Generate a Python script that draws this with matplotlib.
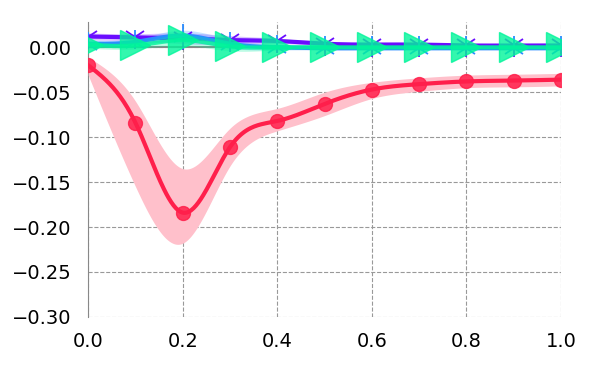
import numpy as np
import matplotlib
matplotlib.use("Agg")
import matplotlib.pyplot as plt

x = [0.0, 0.1, 0.2, 0.3, 0.4, 0.5, 0.6, 0.7, 0.8, 0.9, 1.0]

red_mean = [-0.020, -0.084, -0.184, -0.111, -0.082, -0.063, -0.047, -0.041, -0.038, -0.037, -0.036]
red_low = [-0.031, -0.155, -0.218, -0.132, -0.093, -0.076, -0.057, -0.049, -0.045, -0.044, -0.043]
red_high = [-0.011, -0.060, -0.135, -0.090, -0.068, -0.050, -0.039, -0.034, -0.031, -0.030, -0.029]

purple_mean = [0.012, 0.011, 0.010, 0.008, 0.007, 0.004, 0.003, 0.003, 0.002, 0.002, 0.002]
blue_mean = [0.004, 0.006, 0.013, 0.004, 0.000, -0.001, -0.001, -0.001, -0.001, -0.001, -0.001]
green_mean = [0.003, 0.002, 0.008, 0.001, 0.000, 0.000, 0.000, 0.000, 0.000, 0.000, 0.000]
band_small = [0.004, 0.004, 0.006, 0.005, 0.003, 0.002, 0.002, 0.002, 0.002, 0.002, 0.002]

xticks = [0.0, 0.2, 0.4, 0.6, 0.8, 1.0]
yticks = [0.00, -0.05, -0.10, -0.15, -0.20, -0.25, -0.30]


def spline(xs, ys, xn):
    xs = np.asarray(xs, float); ys = np.asarray(ys, float)
    n = len(xs); h = np.diff(xs)
    A = np.zeros((n, n)); b = np.zeros(n)
    A[0, 0] = A[-1, -1] = 1
    for i in range(1, n - 1):
        A[i, i - 1] = h[i - 1]; A[i, i] = 2 * (h[i - 1] + h[i]); A[i, i + 1] = h[i]
        b[i] = 3 * ((ys[i + 1] - ys[i]) / h[i] - (ys[i] - ys[i - 1]) / h[i - 1])
    c = np.linalg.solve(A, b)
    out = np.empty_like(xn)
    for k, xv in enumerate(xn):
        i = min(max(np.searchsorted(xs, xv) - 1, 0), n - 2)
        d = xv - xs[i]
        bb = (ys[i + 1] - ys[i]) / h[i] - h[i] * (2 * c[i] + c[i + 1]) / 3
        dd = (c[i + 1] - c[i]) / (3 * h[i])
        out[k] = ys[i] + bb * d + c[i] * d ** 2 + dd * d ** 3
    return out


xn = np.linspace(0, 1, 400)

fig = plt.figure(figsize=(6, 3.75), dpi=100)
ax = fig.add_axes([0.147, 0.155, 0.788, 0.786])

ax.grid(True, color="#999999", linestyle="--", linewidth=0.8)
ax.set_axisbelow(True)
ax.axhline(0, color="#888888", linewidth=1.5, zorder=1)

series = [
    (purple_mean, "#6a0dff", "1"),
    (blue_mean, "#2a8cff", "2"),
]
for m, col, mk in series:
    ax.fill_between(xn, spline(x, np.array(m) - band_small, xn), spline(x, np.array(m) + band_small, xn),
                    color=col, alpha=0.25, linewidth=0, zorder=2)
    ax.plot(xn, spline(x, m, xn), color=col, linewidth=3, zorder=3)
    ax.plot(x, m, linestyle="none", marker=mk, color=col, markersize=17, markeredgewidth=1.3, zorder=3)

ax.fill_between(xn, spline(x, np.array(green_mean) - band_small, xn), spline(x, np.array(green_mean) + band_small, xn),
                color="#00f59a", alpha=0.25, linewidth=0, zorder=4)
ax.plot(xn, spline(x, green_mean, xn), color="#00f59a", linewidth=3, alpha=0.8, zorder=4)
ax.plot(x, green_mean, linestyle="none", marker=">", color="#00f59a", markersize=21, alpha=0.8, zorder=4)

ax.fill_between(xn, spline(x, red_low, xn), spline(x, red_high, xn), color="#ffc0cb", linewidth=0, zorder=5)
ax.plot(xn, spline(x, red_mean, xn), color="#ff1f4b", linewidth=3, zorder=6)
ax.plot(x, red_mean, linestyle="none", marker="o", color="#ff1f4b", markersize=10, alpha=0.85, zorder=6)

ax.set_xlim(0, 1)
ax.set_ylim(-0.30, 0.028)
ax.set_xticks(xticks)
ax.set_yticks(yticks)
ax.set_yticklabels([f"{v:.2f}".replace("-", "\u2212") for v in yticks])
ax.tick_params(axis="both", length=0, labelsize=14)
ax.tick_params(axis="y", pad=12)
ax.tick_params(axis="x", pad=11)
for s in ["top", "right", "bottom"]:
    ax.spines[s].set_visible(False)
ax.spines["left"].set_color("#888888")

fig.savefig("out.png", dpi=100)
